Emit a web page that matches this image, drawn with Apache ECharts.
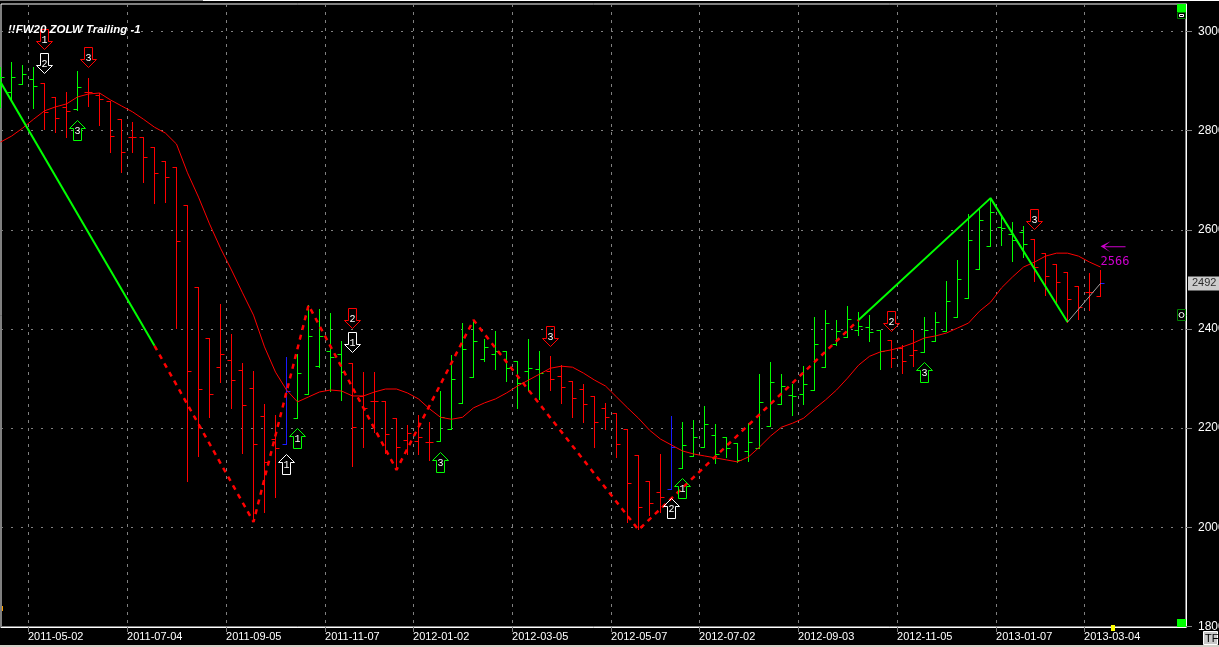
<!DOCTYPE html>
<html>
<head>
<meta charset="utf-8">
<title>!!FW20 ZOLW Trailing -1</title>
<style>
html, body { margin: 0; padding: 0; background: #000; overflow: hidden; }
#main { width: 1219px; height: 647px; }
</style>
<script src="https://cdn.jsdelivr.net/npm/echarts@6/dist/echarts.min.js"></script>
</head>
<body>
<div id="main"></div>
<script>
var weekDates = [
    '2011-04-11','2011-04-18','2011-04-25','2011-05-02','2011-05-09','2011-05-16','2011-05-23','2011-05-30','2011-06-06','2011-06-13',
    '2011-06-20','2011-06-27','2011-07-04','2011-07-11','2011-07-18','2011-07-25','2011-08-01','2011-08-08','2011-08-15','2011-08-22',
    '2011-08-29','2011-09-05','2011-09-12','2011-09-19','2011-09-26','2011-10-03','2011-10-10','2011-10-17','2011-10-24','2011-10-31',
    '2011-11-07','2011-11-14','2011-11-21','2011-11-28','2011-12-05','2011-12-12','2011-12-19','2011-12-26','2012-01-02','2012-01-09',
    '2012-01-16','2012-01-23','2012-01-30','2012-02-06','2012-02-13','2012-02-20','2012-02-27','2012-03-05','2012-03-12','2012-03-19',
    '2012-03-26','2012-04-02','2012-04-09','2012-04-16','2012-04-23','2012-04-30','2012-05-07','2012-05-14','2012-05-21','2012-05-28',
    '2012-06-04','2012-06-11','2012-06-18','2012-06-25','2012-07-02','2012-07-09','2012-07-16','2012-07-23','2012-07-30','2012-08-06',
    '2012-08-13','2012-08-20','2012-08-27','2012-09-03','2012-09-10','2012-09-17','2012-09-24','2012-10-01','2012-10-08','2012-10-15',
    '2012-10-22','2012-10-29','2012-11-05','2012-11-12','2012-11-19','2012-11-26','2012-12-03','2012-12-10','2012-12-17','2012-12-24',
    '2012-12-31','2013-01-07','2013-01-14','2013-01-21','2013-01-28','2013-02-04','2013-02-11','2013-02-18','2013-02-25','2013-03-04',
    '2013-03-11'
];
var dateLabels = ['2011-05-02','2011-07-04','2011-09-05','2011-11-07','2012-01-02','2012-03-05','2012-05-07','2012-07-02','2012-09-03','2012-11-05','2013-01-07','2013-03-04'];
var priceLabels = [1800, 2000, 2200, 2400, 2600, 2800, 3000];

var barHigh = [
    2928,2938,2932,2928,2896,2866,2878,2920,2906,2874,
    2858,2823,2817,2787,2767,2737,2725,2650,2483,2380,
    2450,2388,2331,2315,2247,2226,2343,2349,2448,2440,
    2432,2374,2331,2313,2313,2253,2220,2206,2226,2212,
    2273,2347,2412,2418,2378,2394,2354,2335,2378,2354,
    2345,2327,2295,2289,2263,2249,2230,2198,2144,2093,
    2146,2224,2212,2216,2243,2208,2182,2170,2210,2309,
    2333,2309,2289,2325,2424,2438,2418,2446,2434,2428,
    2398,2376,2366,2396,2424,2434,2495,2539,2630,2644,
    2664,2628,2614,2606,2581,2553,2531,2513,2485,2511,
    2517
];
var barLow = [
    2846,2862,2894,2844,2803,2797,2787,2840,2848,2811,
    2755,2715,2757,2696,2654,2656,2402,2093,2142,2222,
    2293,2239,2148,2011,2029,2061,2168,2220,2267,2323,
    2273,2255,2122,2162,2192,2148,2116,2146,2146,2134,
    2174,2198,2249,2303,2335,2319,2295,2239,2275,2257,
    2275,2249,2222,2212,2162,2198,2140,2009,1995,2023,
    2029,2077,2118,2142,2162,2128,2140,2130,2132,2160,
    2204,2247,2226,2247,2275,2323,2366,2382,2386,2374,
    2319,2323,2311,2325,2352,2374,2394,2424,2462,2521,
    2567,2569,2537,2545,2495,2468,2450,2414,2420,2438,
    2466
];
var barOpen = [
    2882,2876,2894,2904,2896,2866,2846,2842,2876,2870,
    2858,2823,2787,2787,2767,2737,2725,2650,2483,2380,
    2323,2337,2317,2281,2224,2178,2168,2220,2267,2325,
    2354,2349,2331,2263,2253,2253,2220,2176,2174,2172,
    2174,2198,2249,2303,2339,2349,2354,2335,2315,2319,
    2315,2305,2295,2277,2263,2239,2230,2198,2144,2093,
    2071,2077,2118,2142,2162,2186,2182,2170,2152,2160,
    2204,2247,2265,2267,2275,2323,2368,2382,2396,2404,
    2398,2376,2360,2347,2352,2374,2394,2424,2462,2521,
    2567,2604,2590,2594,2581,2553,2531,2513,2485,2473,
    2466
];
var barClose = [
    2908,2908,2914,2890,2836,2825,2838,2888,2876,2862,
    2789,2757,2787,2745,2713,2706,2577,2315,2279,2267,
    2349,2297,2245,2168,2130,2158,2273,2311,2384,2384,
    2343,2313,2202,2239,2253,2188,2162,2190,2182,2172,
    2222,2299,2358,2374,2362,2354,2321,2291,2321,2311,
    2299,2283,2259,2247,2212,2222,2168,2089,2041,2049,
    2061,2162,2166,2182,2208,2146,2160,2134,2172,2251,
    2293,2285,2263,2289,2368,2412,2394,2420,2406,2392,
    2354,2341,2335,2356,2398,2414,2456,2499,2579,2618,
    2634,2602,2579,2571,2525,2505,2493,2460,2444,2473,
    2492
];
// u = green, d = red, t = blue
var barTrend = [
    'u','u','u','u','d','d','d','u','d','d',
    'd','d','d','d','d','d','d','d','d','d',
    'd','d','d','d','d','d','t','u','u','u',
    'u','u','d','d','d','d','d','d','d','d',
    'u','u','u','u','u','u','u','u','u','u',
    'd','d','d','d','d','d','d','d','d','d',
    'd','t','u','u','u','u','u','u','u','u',
    'u','u','u','u','u','u','u','u','u','u',
    'u','d','d','d','u','u','u','u','u','u',
    'u','u','u','u','d','d','d','d','d','d',
    'd'
];
var maLine = [
    2777,2789,2805,2823,2840,2848,2854,2868,2874,2876,
    2862,2850,2838,2823,2807,2795,2773,2715,2666,2612,
    2563,2519,2473,2428,2364,2313,2277,2253,2263,2273,
    2277,2275,2265,2265,2273,2279,2279,2271,2259,2239,
    2222,2218,2222,2241,2251,2259,2271,2285,2297,2309,
    2321,2325,2323,2311,2297,2285,2263,2241,2220,2196,
    2178,2166,2154,2148,2144,2140,2136,2132,2142,2162,
    2184,2202,2210,2220,2239,2257,2277,2301,2327,2345,
    2354,2358,2364,2372,2382,2386,2392,2402,2412,2436,
    2454,2483,2505,2525,2535,2547,2553,2553,2547,2535,
    2525
];

// zigzag turning points, [bar index, price]
var zigGreenA = [[0, 2898], [14, 2366]];
var zigDashed = [[14, 2366], [23, 2011], [28, 2448], [36, 2116], [43, 2418], [58, 1995], [78, 2418]];
var zigGreenB = [[78, 2418], [90, 2664], [97, 2414]];
var zigWhite = [[97, 2414], [100, 2492]];

var arrowBar = [4, 4, 8, 7, 26, 27, 32, 32, 40, 50, 61, 62, 81, 84, 94];
var arrowPrice = [2984, 2936, 2947, 2800, 2127, 2179, 2421, 2373, 2131, 2385, 2038, 2078, 2415, 2312, 2621];
var arrowText = ['1', '2', '3', '3', '1', '1', '2', '1', '3', '3', '2', '1', '2', '3', '3'];
var arrowKind = ['rd', 'wd', 'rd', 'gu', 'wu', 'gu', 'rd', 'wd', 'gu', 'rd', 'wu', 'gu', 'rd', 'gu', 'rd'];

var targetPrice = 2566;

var leftArrow = 'path://M0 5 L10 0 L4 5 L25 5 L25 6 L4 6 L10 11 Z';
var arrowColors = { r: '#ff0000', g: '#00ff00', w: '#ffffff' };
var trendColors = { u: '#00ff00', d: '#ff0000', t: '#1a1aff' };

var lastBar = barClose.length - 1;
var xMin = 0.045;
var xMax = 107.77;

function toPairs(values) {
    var rows = [];
    for (var i = 0; i < values.length; i++) {
        rows.push([i, values[i]]);
    }
    return rows;
}

var barRows = [];
for (var b = 0; b < barHigh.length; b++) {
    barRows.push([b, barHigh[b], barLow[b], barOpen[b], barClose[b]]);
}

var arrowRows = arrowBar.map(function (bar, k) {
    return [bar, arrowPrice[k]];
});

var dateTicks = dateLabels.map(function (d) {
    return weekDates.indexOf(d) - 0.5;
});

function crisp(v) {
    return Math.round(v - 0.5) + 0.5;
}

function renderBar(params, api) {
    var i = params.dataIndex;
    var x = crisp(api.coord([api.value(0), api.value(1)])[0]);
    var high = crisp(api.coord([api.value(0), api.value(1)])[1]);
    var low = crisp(api.coord([api.value(0), api.value(2)])[1]);
    var open = crisp(api.coord([api.value(0), api.value(3)])[1]);
    var close = crisp(api.coord([api.value(0), api.value(4)])[1]);
    var color = trendColors[barTrend[i]];
    var style = { stroke: color, lineWidth: 1, fill: null };
    return {
        type: 'group',
        children: [
            { type: 'line', shape: { x1: x, y1: high - 0.5, x2: x, y2: low + 0.5 }, style: style },
            { type: 'line', shape: { x1: x - 4, y1: open, x2: x, y2: open }, style: style },
            { type: 'line', shape: { x1: x, y1: close, x2: x + 4, y2: close },
              style: { stroke: i === lastBar ? trendColors.t : color, lineWidth: 1 } }
        ]
    };
}

// outlined arrow with its wave number, anchored on the bar and price
function renderArrow(params, api) {
    var k = params.dataIndex;
    var kind = arrowKind[k];
    var c = api.coord([api.value(0), api.value(1)]);
    var x = crisp(c[0]);
    var y = crisp(c[1]);
    var pts;
    if (kind.charAt(1) === 'd') {
        pts = [[x - 4, y - 10], [x + 4, y - 10], [x + 4, y + 2], [x + 8, y + 2], [x, y + 10], [x - 8, y + 2], [x - 4, y + 2]];
    } else {
        pts = [[x, y - 10], [x + 8, y - 2], [x + 4, y - 2], [x + 4, y + 10], [x - 4, y + 10], [x - 4, y - 2], [x - 8, y - 2]];
    }
    return {
        type: 'group',
        children: [
            { type: 'polygon', shape: { points: pts }, style: { stroke: arrowColors[kind.charAt(0)], lineWidth: 1, fill: null } },
            { type: 'text', x: x, y: y + 1, style: {
                text: arrowText[k],
                fill: '#fff',
                font: '10px Liberation Mono',
                align: 'center',
                verticalAlign: 'middle'
            } }
        ]
    };
}

var myChart = echarts.init(document.getElementById('main'), null, { renderer: 'canvas' });

var option = {
    animation: false,
    backgroundColor: '#000',
    title: {
        text: '!!FW20 ZOLW Trailing -1',
        left: 8,
        top: 24,
        padding: 0,
        textStyle: { color: '#fff', fontFamily: 'Liberation Sans', fontSize: 11.5, fontWeight: 'bold', fontStyle: 'italic' }
    },
    grid: {
        left: 1, right: 33, top: 4, bottom: 20,
        outerBoundsMode: 'none',
        show: true,
        borderColor: '#fff',
        borderWidth: 1,
        backgroundColor: '#000'
    },
    xAxis: {
        type: 'value',
        min: xMin,
        max: xMax,
        axisLine: { show: true, onZero: false, lineStyle: { color: '#fff' } },
        axisTick: { show: true, length: 5, customValues: dateTicks, lineStyle: { color: '#808080' } },
        axisLabel: {
            show: true,
            customValues: dateTicks,
            align: 'left',
            margin: 4,
            color: '#fff',
            fontFamily: 'Liberation Sans',
            fontSize: 11,
            formatter: function (v) {
                return weekDates[Math.round(v + 0.5)];
            }
        },
        splitLine: { show: true, lineStyle: { color: '#808080', type: [3, 5], width: 1 } }
    },
    yAxis: {
        type: 'value',
        position: 'right',
        min: 1799,
        max: 3055.5,
        axisLine: { show: true, lineStyle: { color: '#fff' } },
        axisTick: { show: true, length: 6, customValues: priceLabels, lineStyle: { color: '#808080' } },
        axisLabel: {
            show: true,
            customValues: priceLabels,
            margin: 12,
            color: '#fff',
            fontFamily: 'Liberation Sans',
            fontSize: 12,
            formatter: function (v) { return String(v); }
        },
        splitLine: { show: true, lineStyle: { color: '#808080', type: [2, 8], width: 1 } }
    },
    series: [
        {
            name: 'bars',
            type: 'custom',
            renderItem: renderBar,
            encode: { x: 0, y: [1, 2, 3, 4] },
            data: barRows,
            clip: false,
            z: 3
        },
        {
            name: 'ma',
            type: 'line',
            data: toPairs(maLine),
            symbol: 'none',
            clip: false,
            lineStyle: { color: '#ff0000', width: 1 },
            z: 4
        },
        {
            name: 'zig green a',
            type: 'line',
            data: zigGreenA,
            symbol: 'none',
            clip: false,
            lineStyle: { color: '#00ff00', width: 2 },
            z: 5
        },
        {
            name: 'zig dashed',
            type: 'line',
            data: zigDashed,
            symbol: 'none',
            lineStyle: { color: '#ff0000', width: 2.5, type: [5, 5] },
            z: 5
        },
        {
            name: 'zig green b',
            type: 'line',
            data: zigGreenB,
            symbol: 'none',
            lineStyle: { color: '#00ff00', width: 2 },
            z: 5
        },
        {
            name: 'zig white',
            type: 'line',
            data: zigWhite,
            symbol: 'none',
            lineStyle: { color: '#a0a0a0', width: 1 },
            z: 5
        },
        {
            name: 'arrows',
            type: 'custom',
            renderItem: renderArrow,
            encode: { x: 0, y: 1 },
            data: arrowRows,
            clip: false,
            z: 6
        },
        {
            name: 'target',
            type: 'scatter',
            data: [[lastBar, targetPrice]],
            symbol: leftArrow,
            symbolSize: [25, 11],
            symbolOffset: [12.5, 0],
            clip: false,
            itemStyle: { color: '#ff00ff' },
            label: {
                show: true,
                position: 'bottom',
                distance: 4,
                offset: [2, 0],
                color: '#ff00ff',
                fontFamily: 'DejaVu Sans Mono',
                fontSize: 12,
                formatter: function (p) { return String(p.value[1]); }
            },
            z: 6
        },
        {
            name: 'last',
            type: 'scatter',
            data: [[xMax, barClose[lastBar]]],
            symbolSize: 0,
            clip: false,
            label: {
                show: true,
                position: 'right',
                distance: 2,
                color: '#000',
                backgroundColor: '#fff',
                padding: [2, 6, 1, 4],
                fontFamily: 'Liberation Sans',
                fontSize: 11,
                formatter: function (p) { return String(p.value[1]); }
            },
            z: 7
        }
    ],
    graphic: [
        { type: 'rect', shape: { x: 0, y: 0, width: 203, height: 1 }, style: { fill: '#808080' }, z: 10 },
        { type: 'rect', shape: { x: 203, y: 0, width: 1016, height: 1 }, style: { fill: '#fff' }, z: 10 },
        { type: 'rect', shape: { x: 0, y: 645, width: 1219, height: 2 }, style: { fill: '#d4d0c8' }, z: 10 },
        { type: 'rect', shape: { x: 1177, y: 4, width: 9, height: 8 }, style: { fill: '#00ff00' }, z: 10 },
        { type: 'rect', shape: { x: 1177.5, y: 12.5, width: 8, height: 6 }, style: { fill: '#000', stroke: '#008000' }, z: 10 },
        { type: 'rect', shape: { x: 1179.5, y: 14.5, width: 4, height: 2 }, style: { fill: '#000', stroke: '#fff' }, z: 11 },
        { type: 'rect', shape: { x: 1177.5, y: 309.5, width: 8, height: 11 }, style: { fill: '#000', stroke: '#008000' }, z: 10 },
        { type: 'circle', shape: { cx: 1181.5, cy: 315, r: 2.5 }, style: { fill: '#000', stroke: '#fff' }, z: 11 },
        { type: 'rect', shape: { x: 1177, y: 619, width: 9, height: 8 }, style: { fill: '#00ff00' }, z: 10 },
        { type: 'rect', shape: { x: 1111, y: 625, width: 4, height: 6 }, style: { fill: '#ffff00' }, z: 10 },
        { type: 'rect', shape: { x: 2, y: 606, width: 1, height: 5 }, style: { fill: '#ffa000' }, z: 10 },
        { type: 'rect', shape: { x: 1203.5, y: 631.5, width: 14, height: 13 }, style: { fill: '#c8c8c8', stroke: '#fff' }, z: 10 },
        { type: 'text', x: 1205, y: 633, style: { text: 'TF', fill: '#000', font: '11px Liberation Sans' }, z: 11 }
    ]
};

myChart.setOption(option);
</script>
</body>
</html>
